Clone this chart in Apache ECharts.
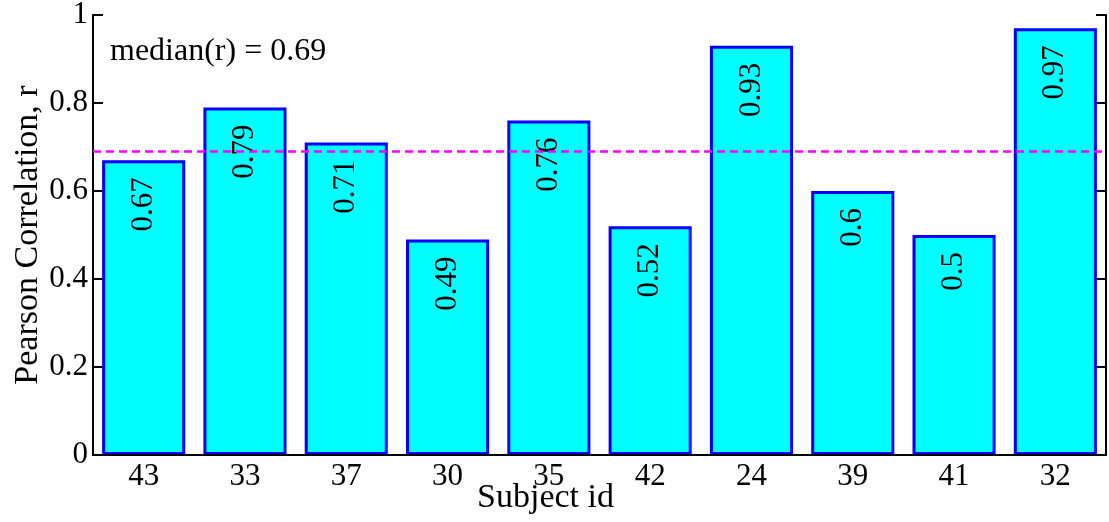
<!DOCTYPE html>
<html>
<head>
<meta charset="utf-8">
<script src="https://cdn.jsdelivr.net/npm/echarts@6/dist/echarts.min.js"></script>
<style>
  html, body { margin: 0; padding: 0; background: #fff; }
  #chart { width: 1109px; height: 522px; }
</style>
</head>
<body>
<div id="chart"></div>
<script>
const subjects = ['43', '33', '37', '30', '35', '42', '24', '39', '41', '32'];
const correlations = [0.67, 0.79, 0.71, 0.49, 0.76, 0.52, 0.93, 0.6, 0.5, 0.97];
const medianR = 0.69;

const font = 'Liberation Serif';
const chart = echarts.init(document.getElementById('chart'));

chart.setOption({
  animation: false,
  grid: { left: 93, right: 3, top: 15, bottom: 67, outerBoundsMode: 'none', containLabel: false },
  graphic: [{
    type: 'text',
    left: 110,
    top: 36,
    style: { text: 'median(r) = ' + medianR, fontFamily: font, fontSize: 32, fill: '#000' }
  }],
  xAxis: [{
    type: 'category',
    data: subjects,
    name: 'Subject id',
    nameLocation: 'middle',
    nameGap: 26,
    nameMoveOverlap: false,
    nameTextStyle: { fontFamily: font, fontSize: 34, color: '#000', padding: [0, 108, 0, 0] },
    axisLine: { lineStyle: { color: '#000', width: 2 } },
    axisTick: { inside: true, length: 10, alignWithLabel: true, lineStyle: { color: '#000', width: 2 } },
    axisLabel: { fontFamily: font, fontSize: 31, color: '#000', margin: 6 },
    z: 5
  }, {
    type: 'category',
    data: subjects,
    position: 'top',
    axisLine: { lineStyle: { color: '#000', width: 2 } },
    axisTick: { inside: true, length: 10, alignWithLabel: true, lineStyle: { color: '#000', width: 2 } },
    axisLabel: { show: false }
  }],
  yAxis: [{
    type: 'value',
    min: 0,
    max: 1,
    interval: 0.2,
    name: 'Pearson Correlation, r',
    nameLocation: 'middle',
    nameGap: 48,
    nameMoveOverlap: false,
    nameTextStyle: { fontFamily: font, fontSize: 34, color: '#000' },
    axisLine: { show: true, lineStyle: { color: '#000', width: 2 } },
    axisTick: { show: true, inside: true, length: 10, lineStyle: { color: '#000', width: 2 } },
    axisLabel: { fontFamily: font, fontSize: 31, color: '#000', margin: 5 },
    splitLine: { show: false }
  }, {
    type: 'value',
    min: 0,
    max: 1,
    interval: 0.2,
    position: 'right',
    axisLine: { show: true, lineStyle: { color: '#000', width: 2 } },
    axisTick: { show: true, inside: true, length: 10, lineStyle: { color: '#000', width: 2 } },
    axisLabel: { show: false },
    splitLine: { show: false }
  }],
  series: [{
    type: 'bar',
    data: correlations,
    barCategoryGap: '18%',
    itemStyle: { color: '#00ffff', borderColor: '#0000ff', borderWidth: 3 },
    label: {
      show: true,
      position: 'insideTop',
      distance: 17,
      rotate: 90,
      align: 'right',
      verticalAlign: 'middle',
      fontFamily: font,
      fontSize: 31,
      color: '#000'
    },
    markLine: {
      silent: true,
      symbol: 'none',
      label: { show: false },
      lineStyle: { color: '#ff00ff', type: [8, 5], width: 2.5 },
      data: [{ yAxis: medianR }]
    }
  }]
});
</script>
</body>
</html>
